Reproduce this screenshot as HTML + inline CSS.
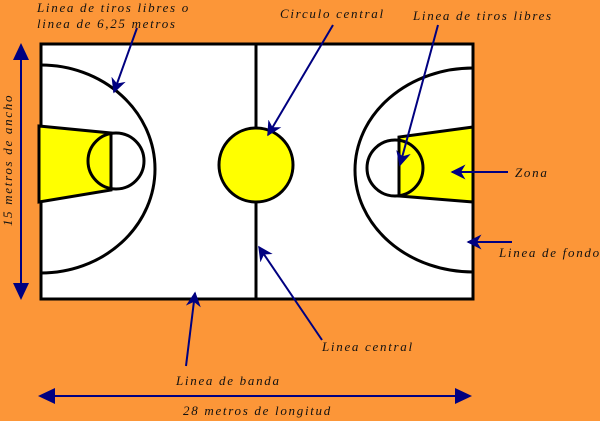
<!DOCTYPE html>
<html><head><meta charset="utf-8"><style>
html,body{margin:0;padding:0;background:#fc9638;}
svg{display:block}
text{font-family:"Liberation Serif",serif;font-style:italic;font-size:13px;fill:#111;letter-spacing:1.7px;}
</style></head><body>
<svg width="600" height="421" viewBox="0 0 600 421" xmlns="http://www.w3.org/2000/svg">
<rect width="600" height="421" fill="#fc9638"/>
<defs>
<marker id="ah" viewBox="0 0 10 10" refX="9" refY="5" markerWidth="15" markerHeight="15" orient="auto" markerUnits="userSpaceOnUse">
<path d="M0,0 L10,5 L0,10 L3,5 Z" fill="#000080"/></marker>
<clipPath id="c"><rect x="41" y="44" width="432" height="255"/></clipPath>
</defs>
<rect x="41" y="44" width="432" height="255" fill="#fff" stroke="#000" stroke-width="3"/>
<g clip-path="url(#c)" fill="none" stroke="#000" stroke-width="3">
<ellipse cx="41" cy="169" rx="114" ry="104"/>
<ellipse cx="473" cy="170" rx="118" ry="102"/>
</g>
<line x1="256" y1="44" x2="256" y2="299" stroke="#000" stroke-width="3"/>
<circle cx="256" cy="165" r="37" fill="#ff0" stroke="#000" stroke-width="3"/>
<polygon points="39,126 111,133 111,190 39,202" fill="#ff0" stroke="#000" stroke-width="3"/>
<circle cx="116" cy="161" r="28" fill="none" stroke="#000" stroke-width="3"/>
<polygon points="473,127 399,137 399,196 473,202" fill="#ff0" stroke="#000" stroke-width="3"/>
<circle cx="395" cy="168" r="28" fill="none" stroke="#000" stroke-width="3"/>
<g stroke="#000080" stroke-width="2" fill="none" marker-end="url(#ah)">
<line x1="137" y1="28" x2="114" y2="92"/>
<line x1="333" y1="25" x2="268" y2="135"/>
<line x1="438" y1="25" x2="400" y2="165"/>
<line x1="508" y1="172" x2="452" y2="172"/>
<line x1="512" y1="242" x2="468" y2="242"/>
<line x1="322" y1="340" x2="259" y2="247"/>
<line x1="186" y1="366" x2="195" y2="293"/>
</g>
<line x1="21" y1="55" x2="21" y2="288" stroke="#000080" stroke-width="2"/>
<polygon points="21,43 13,60 29,60" fill="#000080"/>
<polygon points="21,300 13,283 29,283" fill="#000080"/>
<line x1="50" y1="396" x2="460" y2="396" stroke="#000080" stroke-width="2"/>
<polygon points="38,396 55,388 55,404" fill="#000080"/>
<polygon points="472,396 455,388 455,404" fill="#000080"/>
<text x="37" y="12">Linea de tiros libres o</text>
<text x="37" y="28">linea de 6,25 metros</text>
<text x="280" y="18">Circulo central</text>
<text x="413" y="20">Linea de tiros libres</text>
<text x="515" y="177">Zona</text>
<text x="499" y="257">Linea de fondo</text>
<text x="322" y="351">Linea central</text>
<text x="176" y="385">Linea de banda</text>
<text x="183" y="415">28 metros de longitud</text>
<text x="12" y="160" text-anchor="middle" transform="rotate(-90 12 160)">15 metros de ancho</text>
</svg>
</body></html>
